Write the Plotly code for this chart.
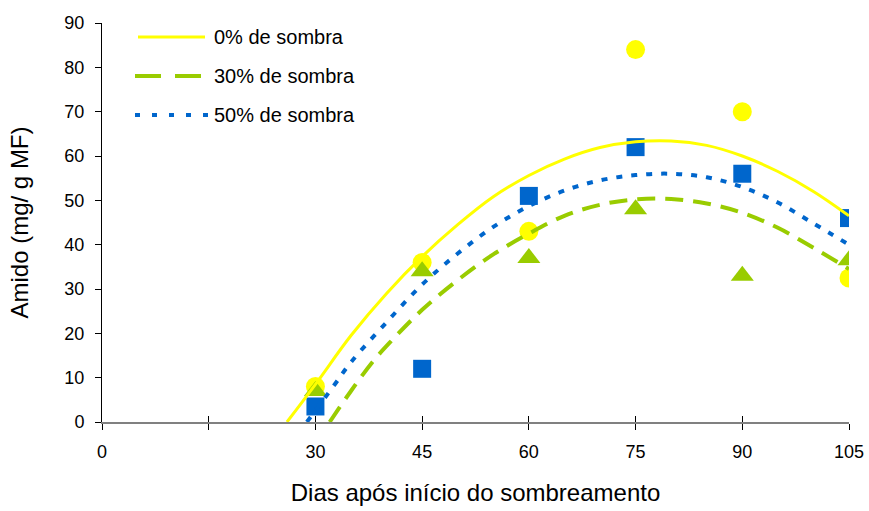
import plotly.graph_objects as go

# Observed data (days after shading start)
days = [30, 45, 60, 75, 90, 105]
sombra_0 = [8, 36, 43, 84, 70, 32.5]
sombra_30 = [7, 34, 37, 48, 33, 36.5]
sombra_50 = [3.5, 12, 51, 62, 56, 46]

# Trendlines
trend_x_0 = [26, 30, 35, 40, 45, 50, 55, 60, 65, 70, 75, 80, 85, 90, 95, 100, 105]
trend_y_0 = [0, 8.5, 19.5, 29, 37.3, 44.5, 50.8, 55.6, 59.3, 61.9, 63.2, 63.4, 62.4, 60, 56.5, 52, 46.5]
trend_x_30 = [32, 35, 38, 40.5, 45, 50, 55, 60, 65, 70, 75, 80, 85, 90, 95, 100, 105]
trend_y_30 = [0, 7, 13.5, 18, 25.3, 32, 37.8, 42.5, 46.5, 49, 50.2, 50.3, 49.3, 47.2, 43.8, 39.3, 34.5]
trend_x_50 = [28.8, 32.5, 35, 40, 45, 50, 55, 60, 65, 70, 75, 80, 85, 90, 95, 100, 105]
trend_y_50 = [0, 8, 13.5, 22.5, 31, 38, 44, 48.7, 52.2, 54.5, 55.7, 56, 55.2, 53, 49.5, 44.8, 40]

x_ticks = [0, 15, 30, 45, 60, 75, 90, 105]
x_ticktext = ["0", "", "30", "45", "60", "75", "90", "105"]
y_ticks = [0, 10, 20, 30, 40, 50, 60, 70, 80, 90]

legend_labels = ["0% de sombra", "30% de sombra", "50% de sombra"]

YELLOW = "#FFFF00"
GREEN = "#99CC00"
BLUE = "#0066CC"
FONT = "Liberation Sans, Arial, sans-serif"

fig = go.Figure()

fig.add_trace(go.Scatter(x=days, y=sombra_0, mode="markers",
                         marker=dict(symbol="circle", size=19, color=YELLOW, line=dict(width=0)),
                         showlegend=False))
fig.add_trace(go.Scatter(x=days, y=sombra_30, mode="markers",
                         marker=dict(symbol="triangle-up", size=20, color=GREEN, line=dict(width=0)),
                         showlegend=False))
fig.add_trace(go.Scatter(x=days, y=sombra_50, mode="markers",
                         marker=dict(symbol="square", size=18, color=BLUE, line=dict(width=0)),
                         showlegend=False))

fig.add_trace(go.Scatter(x=trend_x_0, y=trend_y_0, mode="lines", line_shape="spline",
                         line=dict(color=YELLOW, width=3), showlegend=False))
fig.add_trace(go.Scatter(x=trend_x_30, y=trend_y_30, mode="lines", line_shape="spline",
                         line=dict(color=GREEN, width=4, dash="18px,10px"), showlegend=False))
fig.add_trace(go.Scatter(x=trend_x_50, y=trend_y_50, mode="lines", line_shape="spline",
                         line=dict(color=BLUE, width=4, dash="6px,9px"), showlegend=False))

# invisible trace for the overlay axis carrying the inside half of the x ticks
fig.add_trace(go.Scatter(x=[0, 105], y=[None, None], xaxis="x2", mode="lines",
                         showlegend=False, hoverinfo="skip"))

# manual legend
W, H = 747.0, 399.0
def px_x(p):
    return (p - 102) / W
def px_y(p):
    return (422 - p) / H

legend_rows = [
    (37, 138, 205, YELLOW, 3, "solid"),
    (76, 135, 203, GREEN, 4, "26px,14px"),
    (115, 135, 210, BLUE, 4, "5px,12px"),
]
shapes = []
annotations = []
for (yy, xa, xb, col, w, dash), label in zip(legend_rows, legend_labels):
    shapes.append(dict(type="line", xref="paper", yref="paper",
                       x0=px_x(xa), x1=px_x(xb), y0=px_y(yy), y1=px_y(yy),
                       line=dict(color=col, width=w, dash=dash)))
    annotations.append(dict(xref="paper", yref="paper", x=px_x(212), y=px_y(yy),
                            xanchor="left", yanchor="middle", text=label, showarrow=False,
                            font=dict(family=FONT, size=20, color="black")))

fig.update_layout(
    width=869, height=511,
    margin=dict(l=102, r=20, t=23, b=89, autoexpand=False),
    paper_bgcolor="white", plot_bgcolor="white",
    font=dict(family=FONT, size=18, color="black"),
    shapes=shapes, annotations=annotations,
    xaxis=dict(range=[0, 105], tickvals=x_ticks, ticktext=x_ticktext, automargin=False,
               showgrid=False, zeroline=False, showline=True, linecolor="#808080", linewidth=2,
               ticks="outside", ticklen=6, tickcolor="black", tickwidth=1,
               ticklabelstandoff=6,
               title=dict(text="Dias após início do sombreamento", font=dict(size=24), standoff=24)),
    xaxis2=dict(range=[0, 105], overlaying="x", anchor="y", tickvals=x_ticks, automargin=False,
                showticklabels=False, showgrid=False, zeroline=False, showline=False,
                ticks="inside", ticklen=6, tickcolor="black", tickwidth=1),
    yaxis=dict(range=[0, 90], tickvals=y_ticks, showgrid=False, zeroline=False, automargin=False,
               showline=True, linecolor="black", linewidth=1,
               ticks="outside", ticklen=6, tickcolor="black", tickwidth=1,
               ticklabelstandoff=7,
               title=dict(text="Amido (mg/ g MF)", font=dict(size=24), standoff=28)),
)

fig.write_html("out.html", config={"displayModeBar": False},
               post_script="document.body.style.margin='0px';")
